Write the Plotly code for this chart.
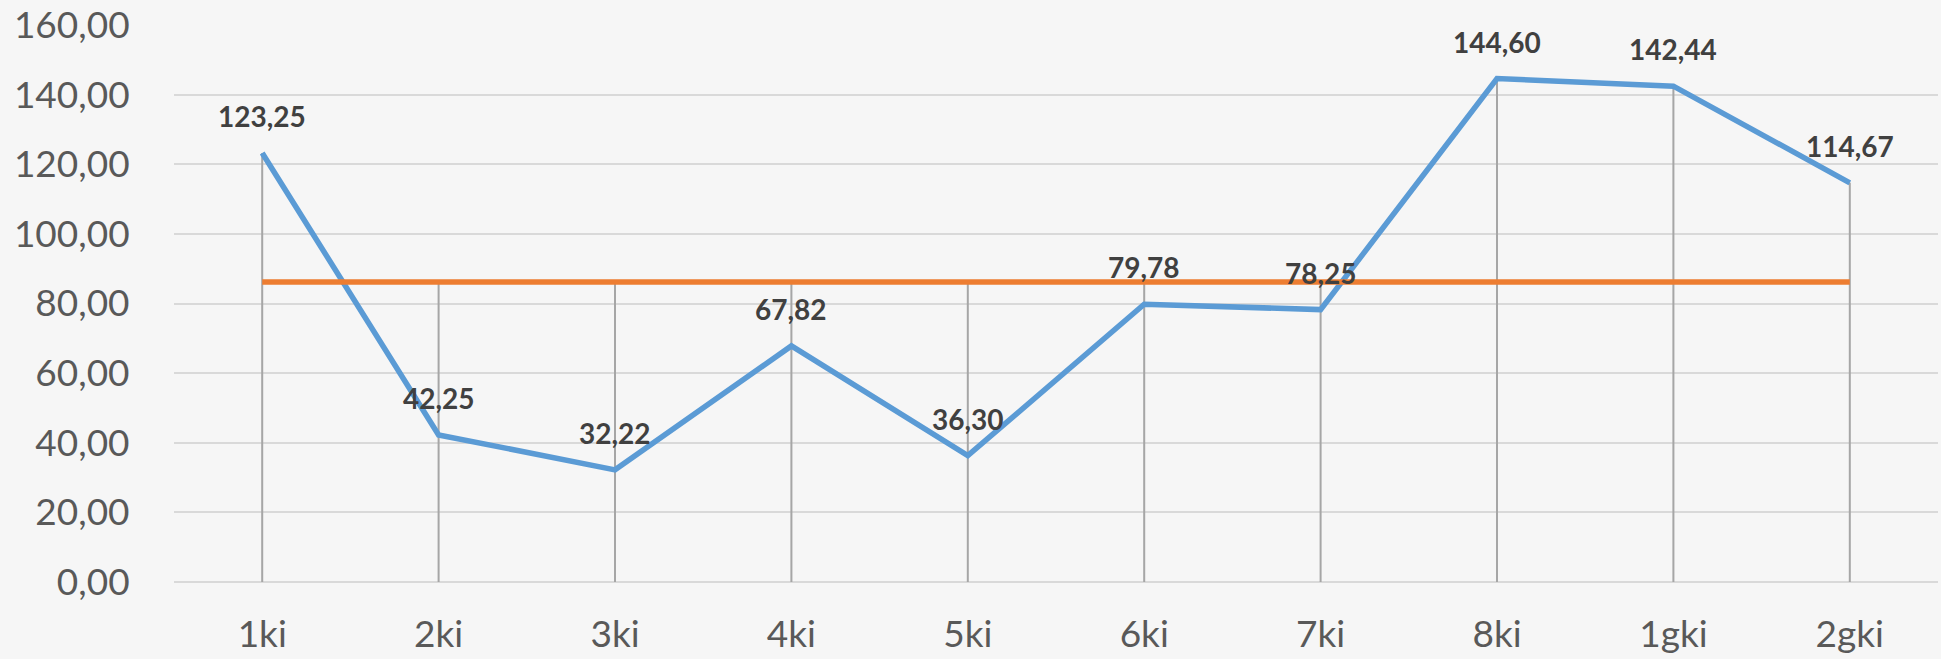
import plotly.graph_objects as go

categories = ["1ki", "2ki", "3ki", "4ki", "5ki", "6ki", "7ki", "8ki", "1gki", "2gki"]
values = [123.25, 42.25, 32.22, 67.82, 36.30, 79.78, 78.25, 144.60, 142.44, 114.67]
average_value = 86.16
average_series = [average_value] * len(categories)
y_ticks = [0, 20, 40, 60, 80, 100, 120, 140, 160]

BG = "#f6f6f6"
FONT = "Lato, 'Open Sans', sans-serif"

fig = go.Figure()

# drop lines (from the highest series value at each category down to the axis)
drop_x, drop_y = [], []
for c, v, a in zip(categories, values, average_series):
    drop_x += [c, c, None]
    drop_y += [0, max(v, a), None]
fig.add_trace(go.Scatter(x=drop_x, y=drop_y, mode="lines",
                         line=dict(color="#a6a6a6", width=2),
                         hoverinfo="skip", showlegend=False))

fig.add_trace(go.Scatter(x=categories, y=values, mode="lines",
                         line=dict(color="#5b9bd5", width=5.5),
                         hoverinfo="skip", showlegend=False))
fig.add_trace(go.Scatter(x=categories, y=average_series, mode="lines",
                         line=dict(color="#ed7d31", width=5.5),
                         hoverinfo="skip", showlegend=False))

for c, v in zip(categories, values):
    fig.add_annotation(x=c, y=v, xref="x", yref="y",
                       text=f"{v:.2f}".replace(".", ","),
                       showarrow=False, yshift=37, yanchor="middle",
                       font=dict(family=FONT, size=28, color="#404040", weight="bold"))

fig.update_layout(
    width=1941, height=659,
    margin=dict(l=174, r=3, t=25, b=77),
    paper_bgcolor=BG, plot_bgcolor=BG,
    separators=",.",
    showlegend=False,
    font=dict(family=FONT, color="#595959"),
)
fig.update_xaxes(
    type="category", categoryorder="array", categoryarray=categories,
    range=[-0.5, len(categories) - 0.5],
    showgrid=False, zeroline=False, showline=False, automargin=False,
    ticks="outside", ticklen=20, tickcolor="rgba(0,0,0,0)",
    tickfont=dict(family=FONT, size=37, color="#595959"),
)
fig.update_yaxes(
    range=[0, 160], tickvals=y_ticks, tickformat=".2f",
    showgrid=True, gridcolor="#d9d9d9", gridwidth=2,
    zeroline=True, zerolinecolor="#d9d9d9", zerolinewidth=2,
    showline=False, automargin=False,
    ticks="outside", ticklen=36, tickcolor="rgba(0,0,0,0)",
    tickfont=dict(family=FONT, size=37, color="#595959"),
)

fig.write_html("out.html",
               config={"displayModeBar": False},
               post_script="document.body.style.margin='0';document.body.style.overflow='hidden';document.body.style.background='%s';" % BG)
